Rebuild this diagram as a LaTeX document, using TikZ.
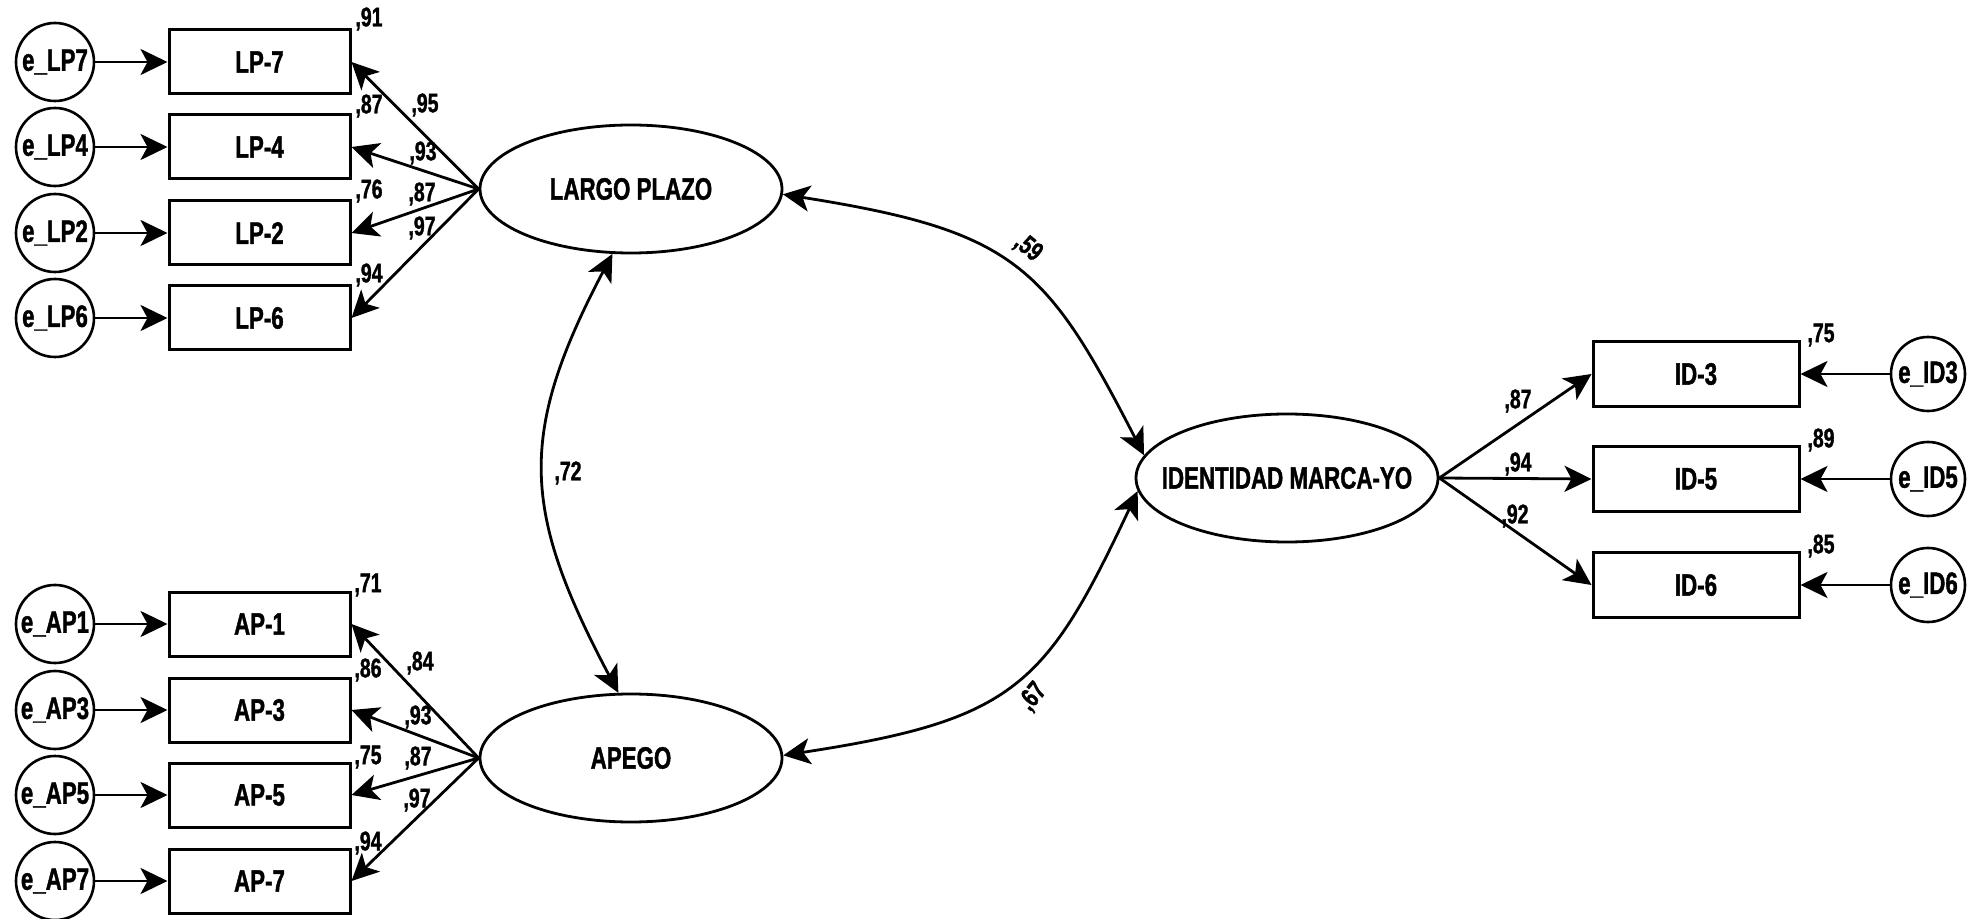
\documentclass[tikz,border=0pt]{standalone}
\usepackage{fontspec}
\setmainfont{Liberation Sans}[FakeStretch=0.72, BoldFeatures={FakeBold=1.2}]
\usetikzlibrary{arrows.meta,shapes.geometric}
\begin{document}
\begin{tikzpicture}[x=0.5pt,y=-0.5pt,
  every node/.style={font=\bfseries\fontsize{15.5pt}{17pt}\selectfont, inner sep=0pt},
  obs/.style={draw, line width=1.5pt, minimum width=90.5pt, minimum height=32pt},
  obsr/.style={obs, minimum width=103pt, minimum height=32.5pt},
  err/.style={draw, circle, line width=1.3pt, minimum size=39pt},
  errr/.style={err, minimum size=37pt},
  lat/.style={draw, ellipse, line width=1.4pt, minimum width=151pt, minimum height=64pt, label=center:{#1}},
  num/.style={font=\bfseries\fontsize{13.5pt}{15pt}\selectfont},
  tip/.tip={Stealth[length=13.5pt,width=13pt,inset=3.5pt]},
  arr/.style={line width=1.4pt, -tip},
  cov/.style={line width=1.4pt, tip-tip}
]
\useasboundingbox (0,0) rectangle (1982,919);

% latent variables
\node[lat={LARGO PLAZO}] (lp) at (631,189) {};
\node[lat={APEGO}] (ap) at (631,758) {};
\node[lat={IDENTIDAD MARCA-YO}] (id) at (1287,478) {};

% LARGO PLAZO indicators
\foreach \n/\y in {7/62,4/147,2/233,6/318} {
  \node[obs] (lp\n) at (259.5,\y) {LP-\n};
  \node[err] (elp\n) at (55,\y) {e\_LP\n};
  \draw[arr] (elp\n) -- (lp\n);
  \draw[arr] (lp.west) -- (lp\n.east);
}
% APEGO indicators
\foreach \n/\y in {1/624,3/710,5/795,7/881} {
  \node[obs] (ap\n) at (259.5,\y) {AP-\n};
  \node[err] (eap\n) at (55,\y) {e\_AP\n};
  \draw[arr] (eap\n) -- (ap\n);
  \draw[arr] (ap.west) -- (ap\n.east);
}
% IDENTIDAD indicators
\foreach \n/\y in {3/374,5/479,6/585} {
  \node[obsr] (id\n) at (1696,\y) {ID-\n};
  \node[errr] (eid\n) at (1928,\y) {e\_ID\n};
  \draw[arr] (eid\n) -- (id\n);
  \draw[arr] (id.east) -- (id\n.west);
}

% squared multiple correlations
\node[num] (rlp7) at (369,19) {,91};
\node[num] (rlp4) at (369,106) {,87};
\node[num] (rlp2) at (369,191) {,76};
\node[num] (rlp6) at (369,275) {,94};
\node[num] (rap1) at (368,585) {,71};
\node[num] (rap3) at (368,670) {,86};
\node[num] (rap5) at (368,757) {,75};
\node[num] (rap7) at (368,843) {,94};
\node[num] (rid3) at (1821,335) {,75};
\node[num] (rid5) at (1821,440) {,89};
\node[num] (rid6) at (1821,546) {,85};

% loadings
\node[num] (llp7) at (425,105) {,95};
\node[num] (llp4) at (423,153) {,93};
\node[num] (llp2) at (422,194) {,87};
\node[num] (llp6) at (422,228) {,97};
\node[num] (lap1) at (420,663) {,84};
\node[num] (lap3) at (418,717) {,93};
\node[num] (lap5) at (418,758) {,87};
\node[num] (lap7) at (417,800) {,97};
\node[num] (lid3) at (1518,401) {,87};
\node[num] (lid5) at (1518,464) {,94};
\node[num] (lid6) at (1515,516) {,92};

% covariances
\draw[cov] (lp.254) .. controls (517,435) and (522,511) .. (ap.101);
\draw[cov] (lp.-2) .. controls (1015,231) and (1046,265) .. (id.171);
\draw[cov] (ap.1) .. controls (1015,720) and (1046,686) .. (id.185);
\node[num] (c72) at (568,473) {,72};
\node[num, rotate=-40] (c59) at (1028,248) {,59};
\node[num, rotate=50] (c67) at (1033,697) {,67};
\end{tikzpicture}
\end{document}
